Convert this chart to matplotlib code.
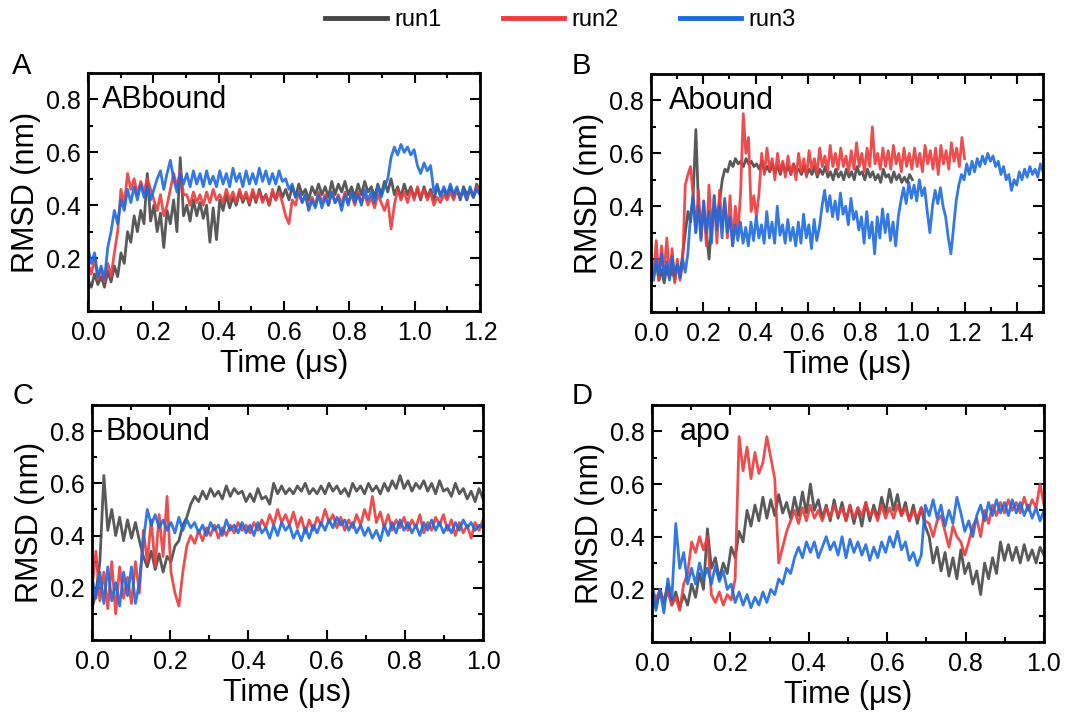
import numpy as np
import matplotlib
matplotlib.use("Agg")
import matplotlib.pyplot as plt
from matplotlib.lines import Line2D
from matplotlib.ticker import MultipleLocator

plt.rcParams["font.family"] = ["Liberation Sans", "DejaVu Sans"]

COLORS = {"run1": "#474747", "run2": "#ee3a3a", "run3": "#1c6ae0"}

# ---- A: ABbound (all runs 0-1.2 us) ----
a_run1 = [0.12, 0.09, 0.14, 0.10, 0.13, 0.09, 0.15, 0.11, 0.17, 0.13,
          0.22, 0.18, 0.30, 0.26, 0.36, 0.30, 0.38, 0.33, 0.52, 0.34,
          0.40, 0.30, 0.37, 0.24, 0.38, 0.33, 0.42, 0.30, 0.58, 0.36,
          0.40, 0.34, 0.42, 0.36, 0.41, 0.35, 0.40, 0.26, 0.39, 0.27,
          0.42, 0.38, 0.44, 0.39, 0.43, 0.40, 0.45, 0.41, 0.44, 0.40,
          0.45, 0.41, 0.46, 0.42, 0.44, 0.40, 0.45, 0.42, 0.47, 0.43,
          0.46, 0.42, 0.47, 0.43, 0.48, 0.44, 0.46, 0.42, 0.47, 0.44,
          0.48, 0.44, 0.47, 0.43, 0.49, 0.44, 0.48, 0.45, 0.49, 0.44,
          0.47, 0.43, 0.48, 0.44, 0.49, 0.45, 0.47, 0.43, 0.48, 0.44,
          0.49, 0.45, 0.50, 0.44, 0.47, 0.43, 0.48, 0.44, 0.47, 0.43,
          0.46, 0.42, 0.47, 0.43, 0.46, 0.42, 0.47, 0.44, 0.46, 0.43,
          0.47, 0.43, 0.46, 0.42, 0.47, 0.44, 0.46, 0.43, 0.48, 0.45]
a_run2 = [0.18, 0.14, 0.20, 0.12, 0.16, 0.11, 0.18, 0.13, 0.22, 0.30,
          0.46, 0.40, 0.52, 0.46, 0.50, 0.44, 0.49, 0.45, 0.50, 0.46,
          0.42, 0.38, 0.44, 0.36, 0.40, 0.46, 0.52, 0.47, 0.53, 0.44,
          0.44, 0.40, 0.45, 0.41, 0.44, 0.40, 0.45, 0.41, 0.46, 0.42,
          0.44, 0.41, 0.46, 0.42, 0.45, 0.41, 0.46, 0.42, 0.45, 0.41,
          0.46, 0.42, 0.45, 0.41, 0.44, 0.40, 0.46, 0.42, 0.45, 0.41,
          0.36, 0.33, 0.42, 0.40, 0.45, 0.41, 0.44, 0.39, 0.43, 0.40,
          0.45, 0.41, 0.44, 0.40, 0.45, 0.41, 0.44, 0.40, 0.45, 0.41,
          0.44, 0.40, 0.45, 0.41, 0.44, 0.40, 0.43, 0.39, 0.44, 0.41,
          0.38, 0.42, 0.31, 0.40, 0.46, 0.42, 0.45, 0.41, 0.46, 0.42,
          0.47, 0.43, 0.46, 0.42, 0.45, 0.40, 0.43, 0.41, 0.44, 0.42,
          0.45, 0.42, 0.46, 0.43, 0.45, 0.42, 0.46, 0.43, 0.47, 0.44]
a_run3 = [0.24, 0.18, 0.22, 0.13, 0.17, 0.12, 0.24, 0.30, 0.38, 0.33,
          0.42, 0.38, 0.46, 0.41, 0.47, 0.42, 0.48, 0.43, 0.47, 0.42,
          0.46, 0.50, 0.53, 0.46, 0.52, 0.57, 0.50, 0.45, 0.52, 0.48,
          0.52, 0.47, 0.53, 0.48, 0.52, 0.47, 0.53, 0.48, 0.51, 0.47,
          0.53, 0.48, 0.52, 0.47, 0.54, 0.49, 0.52, 0.47, 0.53, 0.48,
          0.52, 0.48, 0.54, 0.49, 0.53, 0.48, 0.52, 0.48, 0.53, 0.49,
          0.50, 0.46, 0.48, 0.43, 0.45, 0.41, 0.44, 0.38, 0.42, 0.39,
          0.44, 0.39, 0.43, 0.40, 0.45, 0.41, 0.43, 0.38, 0.44, 0.40,
          0.45, 0.41, 0.44, 0.40, 0.46, 0.42, 0.45, 0.41, 0.47, 0.43,
          0.47, 0.50, 0.58, 0.62, 0.59, 0.63, 0.60, 0.62, 0.59, 0.61,
          0.55, 0.52, 0.56, 0.53, 0.55, 0.45, 0.48, 0.43, 0.47, 0.44,
          0.48, 0.44, 0.47, 0.43, 0.46, 0.42, 0.47, 0.43, 0.46, 0.44]

# ---- B: Abound (run1 0-1.0, run2 0-1.2, run3 0-1.5 us) ----
b_run1 = [0.20, 0.14, 0.18, 0.12, 0.16, 0.11, 0.17, 0.13, 0.16, 0.12,
          0.18, 0.14, 0.22, 0.30, 0.38, 0.34, 0.45, 0.69, 0.40, 0.32,
          0.38, 0.30, 0.20, 0.34, 0.40, 0.36, 0.42, 0.50, 0.54, 0.53,
          0.57, 0.55, 0.58, 0.56, 0.57, 0.55, 0.58, 0.56, 0.57, 0.55,
          0.56, 0.54, 0.57, 0.53, 0.55, 0.53, 0.56, 0.53, 0.55, 0.52,
          0.56, 0.53, 0.55, 0.52, 0.56, 0.53, 0.54, 0.52, 0.55, 0.52,
          0.54, 0.52, 0.55, 0.51, 0.54, 0.52, 0.55, 0.51, 0.53, 0.50,
          0.54, 0.51, 0.53, 0.50, 0.54, 0.51, 0.53, 0.50, 0.55, 0.52,
          0.53, 0.50, 0.54, 0.51, 0.53, 0.50, 0.52, 0.49, 0.54, 0.51,
          0.52, 0.49, 0.53, 0.50, 0.52, 0.49, 0.51, 0.49, 0.52, 0.50]
b_run2 = [0.22, 0.14, 0.27, 0.12, 0.25, 0.15, 0.28, 0.13, 0.24, 0.11,
          0.20, 0.12, 0.18, 0.48, 0.52, 0.55, 0.44, 0.30, 0.46, 0.28,
          0.42, 0.25, 0.48, 0.30, 0.44, 0.26, 0.46, 0.32, 0.42, 0.28,
          0.44, 0.25, 0.40, 0.30, 0.45, 0.75, 0.60, 0.66, 0.38, 0.44,
          0.36, 0.45, 0.60, 0.52, 0.62, 0.54, 0.58, 0.50, 0.60, 0.53,
          0.57, 0.51, 0.59, 0.52, 0.56, 0.50, 0.60, 0.53, 0.58, 0.51,
          0.61, 0.54, 0.58, 0.52, 0.62, 0.55, 0.59, 0.53, 0.63, 0.55,
          0.60, 0.54, 0.62, 0.55, 0.59, 0.53, 0.61, 0.54, 0.64, 0.55,
          0.60, 0.53, 0.62, 0.55, 0.70, 0.56, 0.60, 0.54, 0.62, 0.55,
          0.61, 0.54, 0.63, 0.56, 0.60, 0.53, 0.62, 0.55, 0.60, 0.54,
          0.62, 0.55, 0.60, 0.53, 0.63, 0.56, 0.61, 0.54, 0.62, 0.52,
          0.63, 0.56, 0.61, 0.54, 0.64, 0.57, 0.62, 0.55, 0.66, 0.58]
b_run3 = [0.16, 0.12, 0.20, 0.14, 0.22, 0.13, 0.19, 0.12, 0.21, 0.14,
          0.18, 0.13, 0.20, 0.15, 0.22, 0.36, 0.44, 0.30, 0.40, 0.27,
          0.42, 0.30, 0.38, 0.26, 0.44, 0.31, 0.40, 0.28, 0.43, 0.30,
          0.36, 0.25, 0.33, 0.27, 0.34, 0.26, 0.32, 0.25, 0.34, 0.27,
          0.36, 0.28, 0.33, 0.26, 0.38, 0.28, 0.34, 0.26, 0.40, 0.29,
          0.33, 0.26, 0.35, 0.27, 0.32, 0.25, 0.34, 0.26, 0.37, 0.28,
          0.33, 0.24, 0.35, 0.27, 0.32, 0.40, 0.46, 0.38, 0.44, 0.36,
          0.42, 0.35, 0.45, 0.37, 0.40, 0.33, 0.43, 0.35, 0.38, 0.31,
          0.36, 0.26, 0.38, 0.28, 0.34, 0.22, 0.36, 0.28, 0.39, 0.30,
          0.37, 0.27, 0.34, 0.25, 0.36, 0.42, 0.47, 0.41, 0.49, 0.43,
          0.48, 0.42, 0.50, 0.44, 0.47, 0.38, 0.30, 0.40, 0.46, 0.41,
          0.47, 0.40, 0.36, 0.28, 0.22, 0.32, 0.42, 0.48, 0.52, 0.50,
          0.56, 0.52, 0.57, 0.53, 0.58, 0.55, 0.59, 0.56, 0.60, 0.57,
          0.59, 0.55, 0.57, 0.52, 0.55, 0.50, 0.52, 0.46, 0.50, 0.48,
          0.53, 0.50, 0.54, 0.51, 0.55, 0.52, 0.54, 0.51, 0.56, 0.53]

# ---- C: Bbound (all runs 0-1.0 us) ----
c_run1 = [0.12, 0.18, 0.30, 0.63, 0.42, 0.50, 0.40, 0.47, 0.38, 0.46,
          0.39, 0.45, 0.38, 0.32, 0.28, 0.34, 0.27, 0.33, 0.26, 0.32,
          0.30, 0.36, 0.38, 0.44, 0.47, 0.52, 0.55, 0.53, 0.57, 0.54,
          0.58, 0.55, 0.57, 0.54, 0.59, 0.55, 0.58, 0.56, 0.57, 0.53,
          0.56, 0.53, 0.58, 0.54, 0.55, 0.52, 0.60, 0.56, 0.59, 0.56,
          0.58, 0.56, 0.59, 0.57, 0.60, 0.56, 0.58, 0.56, 0.59, 0.56,
          0.60, 0.57, 0.59, 0.56, 0.58, 0.55, 0.60, 0.57, 0.59, 0.56,
          0.60, 0.57, 0.59, 0.56, 0.60, 0.57, 0.61, 0.58, 0.63, 0.58,
          0.61, 0.57, 0.60, 0.58, 0.61, 0.57, 0.60, 0.56, 0.61, 0.57,
          0.58, 0.55, 0.60, 0.56, 0.58, 0.54, 0.57, 0.53, 0.58, 0.54]
c_run2 = [0.20, 0.34, 0.15, 0.26, 0.12, 0.30, 0.10, 0.28, 0.16, 0.24,
          0.14, 0.30, 0.18, 0.42, 0.30, 0.46, 0.28, 0.48, 0.32, 0.55,
          0.26, 0.18, 0.13, 0.26, 0.36, 0.40, 0.37, 0.42, 0.38, 0.43,
          0.40, 0.44, 0.39, 0.43, 0.40, 0.44, 0.41, 0.45, 0.42, 0.44,
          0.41, 0.45, 0.42, 0.46, 0.43, 0.48, 0.44, 0.50, 0.45, 0.48,
          0.44, 0.49, 0.43, 0.47, 0.41, 0.46, 0.42, 0.47, 0.44, 0.50,
          0.45, 0.48, 0.43, 0.47, 0.42, 0.46, 0.43, 0.48, 0.44, 0.50,
          0.46, 0.55, 0.45, 0.49, 0.43, 0.48, 0.42, 0.46, 0.43, 0.47,
          0.42, 0.46, 0.43, 0.48, 0.41, 0.45, 0.42, 0.47, 0.44, 0.48,
          0.42, 0.46, 0.40, 0.45, 0.41, 0.44, 0.39, 0.45, 0.42, 0.46]
c_run3 = [0.24, 0.16, 0.26, 0.14, 0.28, 0.15, 0.22, 0.13, 0.26, 0.17,
          0.28, 0.14, 0.22, 0.38, 0.50, 0.44, 0.48, 0.43, 0.46, 0.42,
          0.45, 0.41, 0.47, 0.42, 0.46, 0.43, 0.45, 0.41, 0.44, 0.40,
          0.45, 0.42, 0.44, 0.40, 0.46, 0.42, 0.44, 0.41, 0.45, 0.41,
          0.44, 0.40, 0.45, 0.41, 0.43, 0.39, 0.44, 0.40, 0.45, 0.42,
          0.44, 0.39, 0.42, 0.38, 0.43, 0.39, 0.44, 0.41, 0.45, 0.42,
          0.46, 0.43, 0.47, 0.44, 0.46, 0.42, 0.45, 0.41, 0.44, 0.40,
          0.43, 0.39, 0.42, 0.38, 0.44, 0.40, 0.45, 0.41, 0.46, 0.42,
          0.45, 0.41, 0.44, 0.40, 0.45, 0.42, 0.46, 0.42, 0.45, 0.41,
          0.44, 0.41, 0.45, 0.42, 0.46, 0.43, 0.45, 0.42, 0.44, 0.43]

# ---- D: apo (all runs 0-1.0 us) ----
d_run1 = [0.18, 0.13, 0.20, 0.15, 0.22, 0.14, 0.19, 0.13, 0.18, 0.14,
          0.22, 0.17, 0.26, 0.20, 0.43, 0.28, 0.32, 0.24, 0.30, 0.26,
          0.36, 0.32, 0.42, 0.38, 0.50, 0.44, 0.52, 0.46, 0.55, 0.47,
          0.54, 0.48, 0.56, 0.49, 0.53, 0.47, 0.55, 0.48, 0.57, 0.49,
          0.60, 0.50, 0.54, 0.47, 0.52, 0.46, 0.54, 0.47, 0.53, 0.46,
          0.52, 0.45, 0.51, 0.44, 0.53, 0.46, 0.52, 0.47, 0.55, 0.49,
          0.58, 0.50, 0.56, 0.48, 0.53, 0.46, 0.52, 0.45, 0.51, 0.44,
          0.40, 0.30, 0.36, 0.27, 0.34, 0.25, 0.32, 0.24, 0.35, 0.26,
          0.30, 0.22, 0.27, 0.18, 0.30, 0.24, 0.32, 0.26, 0.38, 0.31,
          0.37, 0.31, 0.36, 0.30, 0.37, 0.31, 0.35, 0.30, 0.36, 0.33]
d_run2 = [0.21, 0.16, 0.20, 0.15, 0.19, 0.14, 0.17, 0.12, 0.22, 0.26,
          0.38, 0.34, 0.40, 0.35, 0.40, 0.18, 0.15, 0.19, 0.14, 0.18,
          0.16, 0.24, 0.78, 0.65, 0.74, 0.62, 0.72, 0.64, 0.68, 0.78,
          0.70, 0.62, 0.30, 0.36, 0.42, 0.46, 0.50, 0.45, 0.51, 0.46,
          0.52, 0.47, 0.50, 0.46, 0.51, 0.47, 0.52, 0.48, 0.51, 0.46,
          0.52, 0.47, 0.51, 0.48, 0.53, 0.48, 0.50, 0.46, 0.52, 0.47,
          0.51, 0.47, 0.52, 0.48, 0.51, 0.46, 0.50, 0.47, 0.51, 0.46,
          0.45, 0.40, 0.46, 0.48, 0.42, 0.36, 0.44, 0.40, 0.38, 0.33,
          0.38, 0.44, 0.47, 0.40, 0.50, 0.45, 0.52, 0.48, 0.53, 0.49,
          0.54, 0.50, 0.53, 0.49, 0.55, 0.50, 0.54, 0.51, 0.60, 0.52]
d_run3 = [0.22, 0.12, 0.20, 0.11, 0.24, 0.16, 0.45, 0.28, 0.34, 0.22,
          0.28, 0.22, 0.30, 0.24, 0.28, 0.22, 0.29, 0.23, 0.27, 0.20,
          0.22, 0.15, 0.19, 0.14, 0.18, 0.13, 0.17, 0.14, 0.19, 0.15,
          0.20, 0.18, 0.24, 0.22, 0.28, 0.26, 0.32, 0.36, 0.32, 0.38,
          0.34, 0.38, 0.32, 0.36, 0.40, 0.35, 0.38, 0.33, 0.40, 0.32,
          0.39, 0.34, 0.38, 0.33, 0.37, 0.31, 0.36, 0.32, 0.38, 0.34,
          0.40, 0.36, 0.42, 0.35, 0.38, 0.31, 0.34, 0.29, 0.33, 0.52,
          0.48, 0.54, 0.47, 0.52, 0.44, 0.50, 0.45, 0.55, 0.49, 0.42,
          0.46, 0.40, 0.48, 0.52, 0.46, 0.53, 0.48, 0.54, 0.49, 0.53,
          0.48, 0.54, 0.49, 0.53, 0.48, 0.52, 0.47, 0.51, 0.46, 0.50]

# panel: letter, label, x limit, runs (values, end time)
PANELS = [
    ("A", "ABbound", 1.2, [(a_run1, 1.2), (a_run2, 1.2), (a_run3, 1.2)]),
    ("B", "Abound", 1.5, [(b_run1, 1.0), (b_run2, 1.2), (b_run3, 1.5)]),
    ("C", "Bbound", 1.0, [(c_run1, 1.0), (c_run2, 1.0), (c_run3, 1.0)]),
    ("D", "apo", 1.0, [(d_run1, 1.0), (d_run2, 1.0), (d_run3, 1.0)]),
]

# axes boxes in pixels: left, top, right, bottom
BOXES = [(88, 73, 480, 311), (651, 74, 1043, 312),
         (92, 405, 483, 640), (652, 405, 1044, 642)]
LETTER_POS = [(12, 66), (572, 66), (12, 396), (572, 396)]
LABEL_X = [0.035, 0.045, 0.035, 0.07]

W, H = 1086, 713
fig = plt.figure(figsize=(W / 100, H / 100), dpi=100)

for (letter, label, xmax, runs), box, lpos, lx in zip(PANELS, BOXES, LETTER_POS, LABEL_X):
    l, t, r, b = box
    ax = fig.add_axes([l / W, 1 - b / H, (r - l) / W, (b - t) / H])
    for (vals, t_end), name in zip(runs, ["run1", "run2", "run3"]):
        x = np.linspace(0, t_end, len(vals))
        ax.plot(x, vals, color=COLORS[name], lw=2.0, alpha=0.9)
    ax.set_xlim(0, xmax)
    ax.set_ylim(0, 0.9)
    ax.xaxis.set_major_locator(MultipleLocator(0.2))
    ax.xaxis.set_minor_locator(MultipleLocator(0.1))
    ax.yaxis.set_minor_locator(MultipleLocator(0.1))
    ax.set_yticks([0.2, 0.4, 0.6, 0.8])
    ax.xaxis.set_major_formatter(plt.FuncFormatter(lambda v, p: f"{v:.1f}"))
    ax.yaxis.set_major_formatter(plt.FuncFormatter(lambda v, p: f"{v:.1f}"))
    ax.tick_params(which="both", direction="in", top=True, right=True,
                   width=1.5, labelsize=18)
    ax.tick_params(which="major", length=7)
    ax.tick_params(which="minor", length=3.5)
    ax.tick_params(axis="x", pad=7)
    ax.tick_params(axis="y", pad=5)
    for sp in ax.spines.values():
        sp.set_linewidth(2)
    ax.set_xlabel("Time (μs)", fontsize=22, labelpad=3)
    ax.set_ylabel("RMSD (nm)", fontsize=22, labelpad=4)
    ax.text(lx, 0.95, label, transform=ax.transAxes, fontsize=22,
            ha="left", va="top")
    fig.text(lpos[0] / W, 1 - lpos[1] / H, letter, fontsize=21,
             ha="left", va="center")

handles = [Line2D([], [], color=COLORS[n], lw=3.5) for n in ["run1", "run2", "run3"]]
fig.legend(handles, ["run1", "run2", "run3"], loc="center",
           bbox_to_anchor=(0.516, 0.972), ncol=3, frameon=False,
           fontsize=17, handlelength=2.6, handletextpad=0.3, columnspacing=2.6)

fig.savefig("out.png", dpi=100)
